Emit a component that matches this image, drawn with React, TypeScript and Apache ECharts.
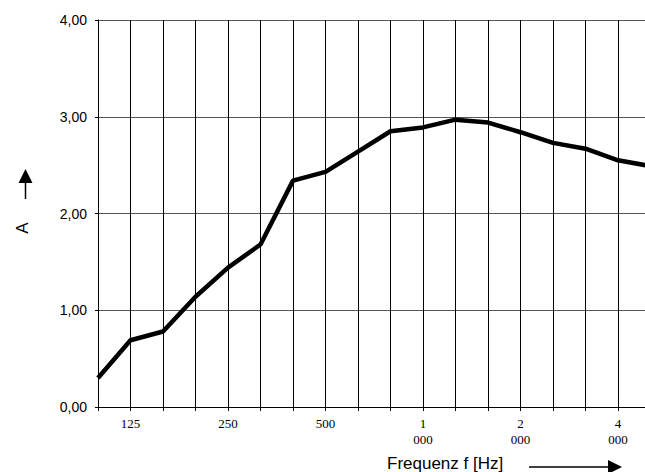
import React, { useEffect, useRef } from "react";
import * as echarts from "echarts";

const categories = ["100", "125", "160", "200", "250", "315", "400", "500", "630", "800", "1000", "1250", "1600", "2000", "2500", "3150", "4000", "5000"];
const values = [0.30, 0.69, 0.78, 1.14, 1.44, 1.68, 2.34, 2.43, 2.64, 2.85, 2.89, 2.97, 2.94, 2.84, 2.73, 2.67, 2.55, 2.49];
const labeledCategories = ["125", "250", "500", "1000", "2000", "4000"];
const yMin = 0;
const yMax = 4;
const yStep = 1;
const xTitle = "Frequenz f [Hz]";
const yTitle = "A";

const CHART_W = 660;
const CHART_H = 472;

export default function App() {
  const ref = useRef<HTMLDivElement>(null);
  useEffect(() => {
    if (!ref.current) return;
    const chart = echarts.init(ref.current, null, { renderer: "svg" });
    const sans = "'Liberation Sans', Arial, sans-serif";
    const serif = "'Liberation Serif', 'Times New Roman', serif";
    chart.setOption({
      animation: false,
      backgroundColor: "#fff",
      grid: { left: 98, right: CHART_W - 650.5, top: 20, bottom: 65, containLabel: false },
      xAxis: {
        type: "category",
        data: categories,
        boundaryGap: false,
        axisLine: { show: true, lineStyle: { color: "#000", width: 1 } },
        axisTick: { show: true, interval: 0, length: 4, lineStyle: { color: "#000" } },
        splitLine: { show: true, interval: 0, lineStyle: { color: "#000", width: 1 } },
        axisLabel: {
          interval: 0,
          margin: 8,
          fontFamily: serif,
          fontSize: 13,
          lineHeight: 16,
          color: "#000",
          formatter: (v: string) => {
            if (!labeledCategories.includes(v)) return "";
            return v.length > 3 ? v.slice(0, v.length - 3) + "\n" + v.slice(-3) : v;
          },
        },
      },
      yAxis: {
        type: "value",
        min: yMin,
        max: yMax,
        interval: yStep,
        axisLine: { show: true, lineStyle: { color: "#000", width: 1 } },
        axisTick: { show: true, length: 3, lineStyle: { color: "#000" } },
        splitLine: { show: true, lineStyle: { color: "#555", width: 1 } },
        axisLabel: {
          margin: 11,
          fontFamily: sans,
          fontSize: 14,
          color: "#000",
          formatter: (v: number) => v.toFixed(2).replace(".", ","),
        },
      },
      series: [
        {
          type: "line",
          data: values,
          symbol: "none",
          z: 5,
          lineStyle: { color: "#000", width: 4.5, join: "round" },
        },
      ],
      graphic: [
        {
          type: "text",
          left: undefined,
          x: 387,
          y: 463,
          style: {
            text: xTitle,
            font: `17px ${sans}`,
            fill: "#000",
            align: "left",
            verticalAlign: "middle",
          },
        },
        {
          type: "line",
          shape: { x1: 529, y1: 467, x2: 610, y2: 467 },
          style: { stroke: "#000", lineWidth: 1.5 },
        },
        {
          type: "polygon",
          shape: { points: [[608, 460], [622, 467], [608, 474]] },
          style: { fill: "#000" },
        },
        {
          type: "text",
          x: 22,
          y: 228,
          rotation: Math.PI / 2,
          style: {
            text: yTitle,
            font: `17px ${sans}`,
            fill: "#000",
            align: "center",
            verticalAlign: "middle",
          },
        },
        {
          type: "line",
          shape: { x1: 25.5, y1: 199, x2: 25.5, y2: 181 },
          style: { stroke: "#000", lineWidth: 1.5 },
        },
        {
          type: "polygon",
          shape: { points: [[18.5, 183], [25.5, 169], [32.5, 183]] },
          style: { fill: "#000" },
        },
      ],
    });
    return () => chart.dispose();
  }, []);
  return (
    <div style={{ position: "absolute", left: 0, top: 0, width: 645, height: CHART_H, overflow: "hidden", background: "#fff" }}>
      <div ref={ref} style={{ width: CHART_W, height: CHART_H }} />
    </div>
  );
}
